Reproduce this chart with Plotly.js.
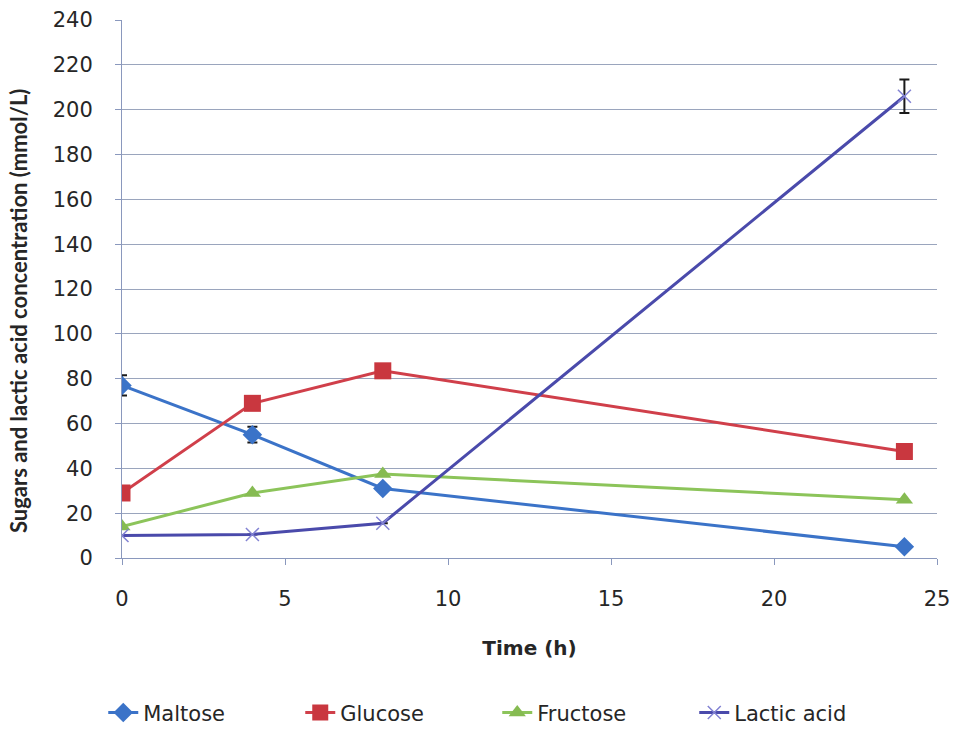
<!DOCTYPE html>
<html><head><meta charset="utf-8">
<script src="https://cdn.plot.ly/plotly-3.0.1.min.js"></script>
<style>html,body{margin:0;padding:0;background:#fff}#chart{width:956px;height:730px}</style>
</head><body><div id="chart"></div>
<script>
const time = [0, 4, 8, 24];
const maltose = [77, 55, 31, 5];
const maltoseErr = [4.5, 3.5, null, null];
const glucose = [29, 69, 83.5, 47.5];
const fructose = [14, 29, 37.5, 26];
const lactic = [10, 10.5, 15.5, 206];
const lacticErr = [null, null, null, 7.5];
const xTicks = [0, 5, 10, 15, 20, 25];
const yTicks = [0, 20, 40, 60, 80, 100, 120, 140, 160, 180, 200, 220, 240];
const xTitle = 'Time (h)';
const yTitle = 'Sugars and lactic acid concentration (mmol/L)';

const font = "'DejaVu Sans', Arial, sans-serif";
const titleFont = "Lato, 'Open Sans', Arial, sans-serif";
const textColor = '#262626';
const errStyle = {type: 'data', visible: true, color: '#1a1a1a', thickness: 2, width: 5};

const traces = [
  {x: time, y: maltose, name: 'Maltose', mode: 'lines+markers',
   line: {color: '#3b73c8', width: 3},
   marker: {symbol: 'diamond', size: 15, color: '#3b73c8'},
   error_y: Object.assign({array: maltoseErr}, errStyle)},
  {x: time, y: glucose, name: 'Glucose', mode: 'lines+markers',
   line: {color: '#d03f4a', width: 3},
   marker: {symbol: 'square', size: 17, color: '#c9373f'}},
  {x: time, y: fructose, name: 'Fructose', mode: 'lines+markers',
   line: {color: '#8cc45a', width: 3},
   marker: {symbol: 'triangle-up', size: 15, color: '#86bb52'}},
  {x: time, y: lactic, name: 'Lactic acid', mode: 'lines+markers',
   line: {color: '#4a4aab', width: 3},
   marker: {symbol: 'x-thin', size: 13, line: {color: '#8383d3', width: 1.5}, color: '#8383d3'},
   error_y: Object.assign({array: lacticErr}, errStyle)}
];

const layout = {
  width: 956, height: 730,
  margin: {l: 122, r: 19, t: 20, b: 172, autoexpand: false},
  paper_bgcolor: '#ffffff', plot_bgcolor: '#ffffff',
  font: {family: font, size: 21, color: textColor},
  showlegend: true,
  legend: {orientation: 'h', x: -0.023, xanchor: 'left', y: -0.288, yanchor: 'middle',
           font: {family: font, size: 21, color: textColor}, entrywidth: 152, entrywidthmode: 'pixels',
           traceorder: 'normal'},
  xaxis: {range: [0, 25], tickvals: xTicks, ticktext: xTicks.map(String),
          showgrid: false, zeroline: false, showline: true, linecolor: '#8a98bd', linewidth: 1,
          ticks: 'outside', ticklen: 6, tickcolor: '#8a98bd', ticklabelstandoff: 16,
          tickfont: {family: font, size: 21, color: textColor},
          title: {text: '<b>' + xTitle + '</b>', font: {family: font, size: 20, color: textColor}, standoff: 30}},
  yaxis: {range: [0, 240], tickvals: yTicks, ticktext: yTicks.map(String),
          showgrid: true, gridcolor: '#9aa5bd', gridwidth: 1, zeroline: false,
          showline: true, linecolor: '#8a98bd', linewidth: 1,
          ticks: 'outside', ticklen: 6, tickcolor: '#8a98bd', ticklabelstandoff: 18,
          tickfont: {family: font, size: 21, color: textColor}},
  annotations: [{text: '<b>' + yTitle + '</b>', textangle: -90, showarrow: false,
                 xref: 'paper', yref: 'paper', x: -0.1276, y: 0.459, xanchor: 'center', yanchor: 'middle',
                 font: {family: titleFont, size: 22, color: textColor}}]
};

Plotly.newPlot('chart', traces, layout, {displayModeBar: false, staticPlot: true});
</script></body></html>
